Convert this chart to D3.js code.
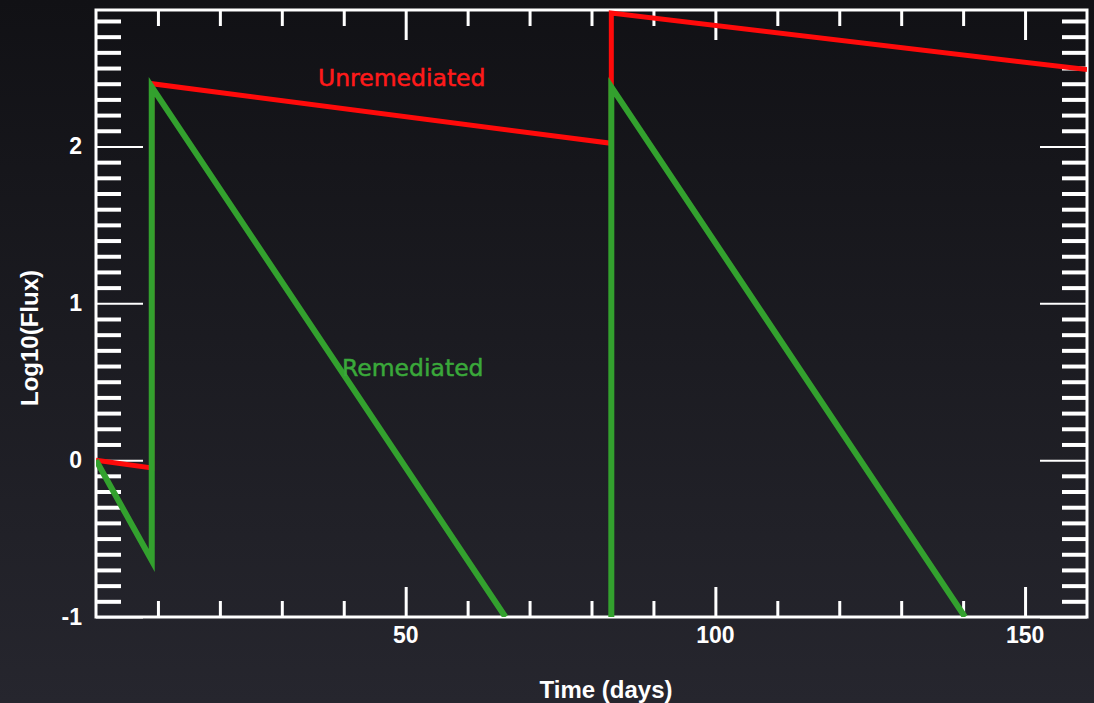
<!DOCTYPE html>
<html>
<head>
<meta charset="utf-8">
<script src="https://cdn.jsdelivr.net/npm/d3@7"></script>
<style>
  html, body { margin: 0; padding: 0; background: #18181d; }
  svg { display: block; }
</style>
</head>
<body>
<div id="vis"></div>
<script>
// data
const daysUnrem = [0, 9, 9, 83.2, 83.2, 160];
const fluxUnrem = [0, -0.05, 2.40, 2.02, 2.85, 2.49];

// null = pen lifted (curve runs below the axis)
const daysRem = [0, 9, 9, 66.1, null, 83.2, 83.2, 140.3];
const fluxRem = [0, -0.64, 2.38, -1, null, -1, 2.38, -1];

const xTicks = [50, 100, 150];
const yTicks = [-1, 0, 1, 2];

let W = 1094, H = 703;
let margin = { top: 10, left: 96, right: 7, bottom: 86 },
  width = W - margin.left - margin.right,
  height = H - margin.top - margin.bottom;

let svg = d3.select('#vis')
  .append('svg')
  .attr('width', W)
  .attr('height', H);

// dark gradient background
let grad = svg.append('defs').append('linearGradient')
  .attr('id', 'bg')
  .attr('x1', 0).attr('y1', 0).attr('x2', 0).attr('y2', 1);
grad.append('stop').attr('offset', '0%').attr('stop-color', '#111115');
grad.append('stop').attr('offset', '100%').attr('stop-color', '#26262e');
svg.append('rect').attr('width', W).attr('height', H).attr('fill', 'url(#bg)');

svg.select('defs').append('clipPath').attr('id', 'clip')
  .append('rect').attr('width', width).attr('height', height);

let g = svg.append('g').attr('transform', `translate(${margin.left},${margin.top})`);

const x = d3.scaleLinear().domain([0, 160]).range([0, width]);
const y = d3.scaleLinear().domain([-1, 2.87]).range([height, 0]);

const xMinor = d3.range(10, 160, 10).filter(v => v % 50 !== 0);
const yMinor = d3.range(-9, 29).map(v => v / 10).filter(v => Math.round(v * 10) % 10 !== 0);

function tickStyle(sel, w) {
  sel.select('.domain').remove();
  sel.selectAll('.tick line').attr('stroke', '#fff').attr('stroke-width', w);
  sel.selectAll('.tick text').remove();
}

// minor ticks, all four sides
g.append('g').attr('transform', `translate(0,${height})`)
  .call(d3.axisBottom(x).tickValues(xMinor).tickSize(-16)).call(s => tickStyle(s, 3));
g.append('g')
  .call(d3.axisTop(x).tickValues(xMinor).tickSize(-16)).call(s => tickStyle(s, 3));
g.append('g')
  .call(d3.axisLeft(y).tickValues(yMinor).tickSize(-25)).call(s => tickStyle(s, 4));
g.append('g').attr('transform', `translate(${width},0)`)
  .call(d3.axisRight(y).tickValues(yMinor).tickSize(-25)).call(s => tickStyle(s, 4));

// major ticks
g.append('g').attr('transform', `translate(0,${height})`)
  .call(d3.axisBottom(x).tickValues(xTicks).tickSize(-30)).call(s => tickStyle(s, 3));
g.append('g')
  .call(d3.axisTop(x).tickValues(xTicks).tickSize(-30)).call(s => tickStyle(s, 3));
g.append('g')
  .call(d3.axisLeft(y).tickValues(yTicks).tickSize(-47)).call(s => tickStyle(s, 2));
g.append('g').attr('transform', `translate(${width},0)`)
  .call(d3.axisRight(y).tickValues(yTicks).tickSize(-47)).call(s => tickStyle(s, 2));

// frame
g.append('rect')
  .attr('width', width).attr('height', height)
  .attr('fill', 'none').attr('stroke', '#fff').attr('stroke-width', 3);

// tick labels
g.selectAll('.xlab').data(xTicks).enter().append('text')
  .attr('x', d => x(d)).attr('y', height + 26)
  .attr('text-anchor', 'middle')
  .style('font', 'bold 23px "Liberation Sans", Arial, sans-serif')
  .attr('fill', '#fff').text(d => d);
g.selectAll('.ylab').data(yTicks).enter().append('text')
  .attr('x', -14).attr('y', d => y(d) + 8)
  .attr('text-anchor', 'end')
  .style('font', 'bold 23px "Liberation Sans", Arial, sans-serif')
  .attr('fill', '#fff').text(d => d);

// axis labels
svg.append('text')
  .attr('x', 606).attr('y', 698)
  .attr('text-anchor', 'middle')
  .style('font', 'bold 24px "Liberation Sans", Arial, sans-serif')
  .attr('fill', '#fff').text('Time (days)');
svg.append('text')
  .attr('transform', 'translate(38,338) rotate(-90)')
  .attr('text-anchor', 'middle')
  .style('font', 'bold 24px "Liberation Sans", Arial, sans-serif')
  .attr('fill', '#fff').text('Log10(Flux)');

// curves
let lines = g.append('g').attr('clip-path', 'url(#clip)');
const line = d3.line()
  .defined(d => d[0] !== null)
  .x(d => x(d[0]))
  .y(d => y(d[1]));

lines.append('path')
  .datum(daysUnrem.map((d, i) => [d, fluxUnrem[i]]))
  .attr('d', line)
  .attr('fill', 'none')
  .attr('stroke', '#ff0a0a')
  .attr('stroke-width', 5)
  .attr('stroke-linejoin', 'miter');

lines.append('path')
  .datum(daysRem.map((d, i) => [d, fluxRem[i]]))
  .attr('d', line)
  .attr('fill', 'none')
  .attr('stroke', '#33a12e')
  .attr('stroke-width', 6)
  .attr('stroke-linejoin', 'miter');

// in-plot labels
svg.append('text')
  .attr('x', 318).attr('y', 86)
  .style('font', '23.5px "DejaVu Sans", sans-serif')
  .attr('stroke', '#ff1a1a').attr('stroke-width', 0.5)
  .attr('fill', '#ff1a1a').text('Unremediated');
svg.append('text')
  .attr('x', 342).attr('y', 376)
  .style('font', '23.5px "DejaVu Sans", sans-serif')
  .attr('stroke', '#3aa83a').attr('stroke-width', 0.5)
  .attr('fill', '#3aa83a').text('Remediated');
</script>
</body>
</html>
